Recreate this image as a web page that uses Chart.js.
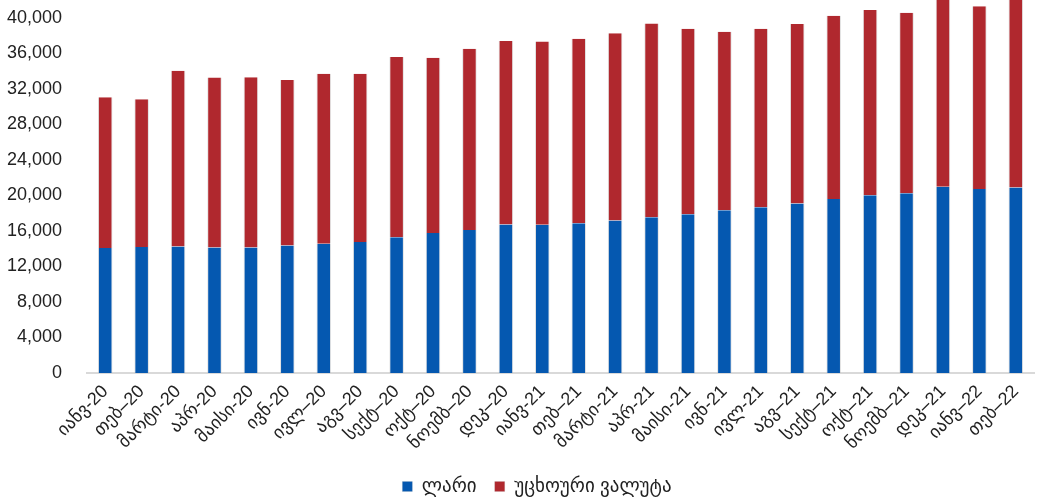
<!DOCTYPE html>
<html>
<head>
<meta charset="utf-8">
<script src="https://cdn.jsdelivr.net/npm/chart.js@4.4.1/dist/chart.umd.min.js"></script>
<style>
  html, body { margin: 0; padding: 0; background: #fff; }
</style>
</head>
<body>
<canvas id="myChart" width="1040" height="497"></canvas>
<script>
const months = ['იანვ-20', 'თებ–20', 'მარტი-20', 'აპრ-20', 'მაისი-20', 'ივნ-20', 'ივლ–20', 'აგვ–20',
  'სექტ–20', 'ოქტ–20', 'ნოემბ–20', 'დეკ–20', 'იანვ-21', 'თებ–21', 'მარტი-21', 'აპრ-21', 'მაისი-21',
  'ივნ-21', 'ივლ-21', 'აგვ–21', 'სექტ–21', 'ოქტ–21', 'ნოემბ–21', 'დეკ–21', 'იანვ–22', 'თებ–22']

const lari = [14080, 14200, 14230, 14120, 14120, 14350, 14540, 14760, 15290, 15770, 16110, 16710, 16680,
  16870, 17160, 17540, 17880, 18330, 18670, 19080, 19600, 20020, 20250, 20960, 20730, 20880]
const foreign = [16980, 16630, 19800, 19150, 19180, 18630, 19150, 18930, 20280, 19730, 20390, 20660, 20650,
  20760, 21110, 21820, 20880, 20090, 20090, 20210, 20630, 20840, 20310, 21600, 20570, 21700]

const seriesNames = ['ლარი', 'უცხოური ვალუტა']
const yTicks = [0, 4000, 8000, 12000, 16000, 20000, 24000, 28000, 32000, 36000, 40000]

const font = "'Liberation Sans', 'DejaVu Sans', Arial, sans-serif"
const ctx = document.getElementById('myChart')

// plot box edges in canvas pixels
const plotLeft = 87
const plotBottom = 373

// nudge the legend a little right and down after layout
const legendNudge = {
  id: 'legendNudge',
  afterLayout(chart) {
    const lg = chart.legend
    lg.left += 20; lg.right += 20
    lg.top += 9; lg.bottom += 9
  }
}

new Chart(ctx, {
  type: 'bar',
  data: {
    labels: months,
    datasets: [{
      label: seriesNames[0],
      data: lari,
      backgroundColor: '#0558b0',
      borderColor: 'rgba(170,170,170,0.35)',
      borderWidth: { left: 1, right: 1 },
      barPercentage: 0.4,
      categoryPercentage: 1
    }, {
      label: seriesNames[1],
      data: foreign,
      backgroundColor: '#b0282e',
      borderColor: 'rgba(170,170,170,0.35)',
      borderWidth: { left: 1, right: 1 },
      barPercentage: 0.4,
      categoryPercentage: 1
    }]
  },
  plugins: [legendNudge],
  options: {
    responsive: false,
    animation: false,
    layout: { padding: { left: 0, right: 6, top: 0, bottom: 0 } },
    plugins: {
      tooltip: { enabled: false },
      legend: {
        position: 'bottom',
        labels: {
          boxWidth: 10,
          boxHeight: 10,
          padding: 18,
          color: '#222',
          font: { family: font, size: 19 }
        }
      }
    },
    scales: {
      x: {
        stacked: true,
        grid: { display: false },
        border: { color: '#d9d9d9', width: 2 },
        ticks: {
          color: '#222',
          font: { family: font, size: 18 },
          minRotation: 45,
          maxRotation: 45,
          padding: 0
        },
        afterFit: s => {
          s.paddingLeft = 0
          s.height = 497 - s.chart.legend.height - plotBottom
        }
      },
      y: {
        stacked: true,
        min: 0,
        max: 42000,
        grid: { display: false },
        border: { display: false },
        ticks: {
          color: '#222',
          padding: 17,
          font: { family: font, size: 18 },
          callback: v => v.toLocaleString('en-US')
        },
        afterBuildTicks: s => { s.ticks = yTicks.map(v => ({ value: v })) },
        afterFit: s => {
          s.paddingTop = 0
          s.width = plotLeft
        }
      }
    }
  }
})
</script>
</body>
</html>
